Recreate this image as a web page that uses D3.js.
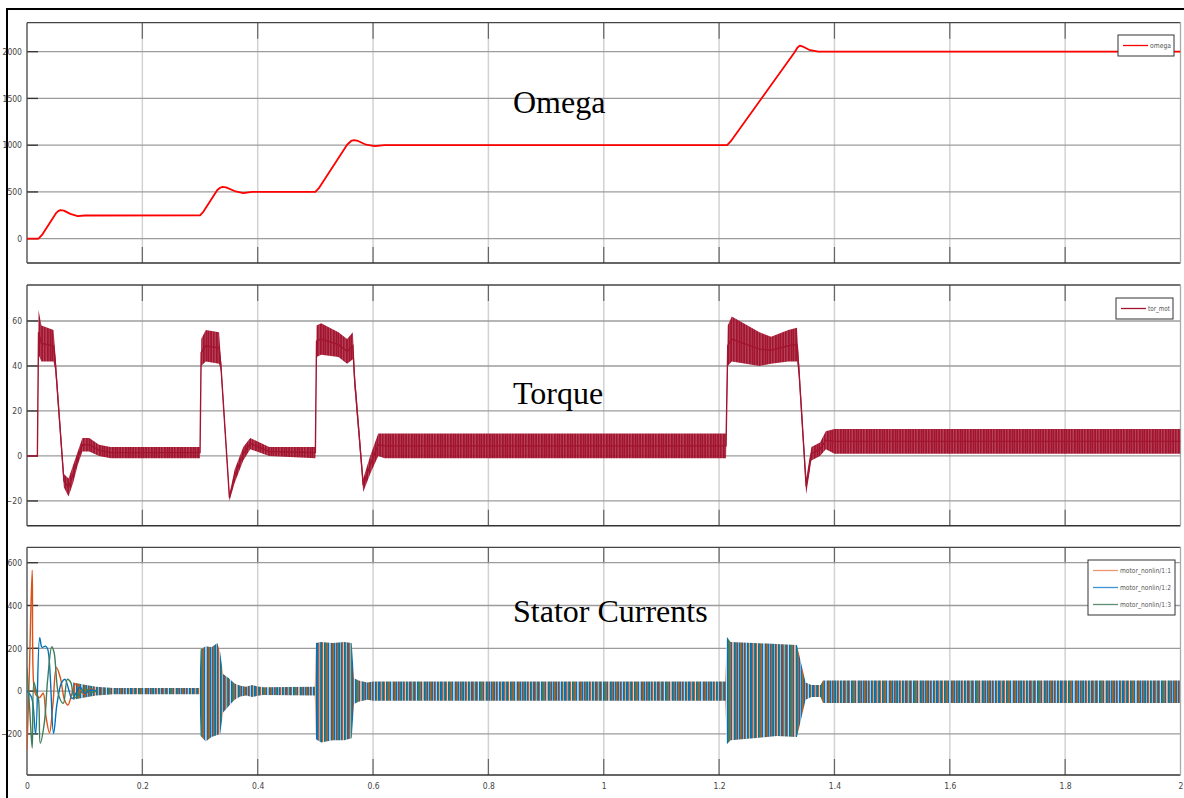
<!DOCTYPE html>
<html>
<head>
<meta charset="utf-8">
<script src="https://cdn.jsdelivr.net/npm/d3@7"></script>
<style>
  body { margin: 0; background: #fff; }
  svg { display: block; }
  .axis text { font-family: "DejaVu Sans Condensed", "Liberation Sans Narrow", sans-serif; font-size: 8.5px; fill: #444; }
  .title { font-family: "Liberation Serif", "DejaVu Serif", serif; font-size: 32px; fill: #000; }
  .legend text { font-family: "DejaVu Sans Condensed", sans-serif; font-size: 7px; fill: #555; }
</style>
</head>
<body>
<svg id="chart" width="1184" height="798"></svg>
<script>
// ---- data ----
const xTicks = [0, 0.2, 0.4, 0.6, 0.8, 1, 1.2, 1.4, 1.6, 1.8, 2];

const omegaTicks = [0, 500, 1000, 1500, 2000];
const omegaT = [0, 0.02, 0.026, 0.05, 0.054, 0.058, 0.064, 0.075, 0.088, 0.1, 0.3, 0.306, 0.33, 0.335, 0.339, 0.345, 0.36, 0.375, 0.39, 0.5, 0.506, 0.555, 0.562, 0.567, 0.574, 0.588, 0.603, 0.62, 1.214, 1.22, 1.33, 1.336, 1.34, 1.345, 1.356, 1.372, 2];
const omegaV = [0, 0, 40, 270, 295, 305, 300, 265, 242, 248, 250, 290, 520, 545, 555, 548, 510, 488, 500, 500, 540, 1005, 1045, 1054, 1045, 1005, 990, 1000, 1000, 1040, 1985, 2045, 2065, 2055, 2020, 2000, 2000];

const torqueTicks = [-20, 0, 20, 40, 60];
const torqueT  = [0, 0.018, 0.02, 0.025, 0.046, 0.049, 0.064, 0.072, 0.08, 0.088, 0.096, 0.108, 0.125, 0.145, 0.3, 0.302, 0.31, 0.333, 0.336, 0.351, 0.36, 0.375, 0.387, 0.42, 0.5, 0.502, 0.51, 0.54, 0.555, 0.565, 0.568, 0.583, 0.595, 0.609, 0.62, 1.212, 1.215, 1.222, 1.27, 1.29, 1.32, 1.335, 1.338, 1.351, 1.36, 1.375, 1.385, 1.4, 2];
const torqueLo = [0, 0, 45, 42, 42, 38, -14, -18, -12, -4, 2, 2, 0, -1, -1, 40, 42, 41, 38, -20, -12, -2, 3, 0, -1, 44, 45, 44, 41, 43, 30, -16, -8, 0, -1, -1, 40, 42, 40, 41, 42, 42, 36, -17, -2, 0, 3, 1, 1];
const torqueHi = [0, 0, 65, 58, 56, 46, -8, -10, -4, 2, 8, 8, 5, 4, 4, 52, 56, 55, 44, -17, -6, 4, 8, 4, 4, 58, 59, 55, 52, 55, 38, -10, 0, 10, 10, 10, 58, 62, 55, 53, 56, 57, 44, -10, 4, 6, 11, 12, 12];

const currentTicks = [-200, 0, 200, 400, 600];
// start-up transient, one trace per phase
const phase1T = [0, 0.004, 0.009, 0.012, 0.016, 0.022, 0.028, 0.033, 0.039, 0.045, 0.051, 0.058, 0.065, 0.071, 0.078, 0.085, 0.092, 0.1, 0.11, 0.12];
const phase1V = [-275, 80, 565, 20, -20, -30, -10, -120, -195, -60, 110, 60, -40, -65, -10, 35, 5, -15, 10, 0];
const phase2T = [0, 0.008, 0.015, 0.022, 0.026, 0.032, 0.036, 0.046, 0.052, 0.06, 0.066, 0.072, 0.078, 0.085, 0.092, 0.1, 0.11, 0.12];
const phase2V = [0, -30, -200, 250, 205, 210, 195, -198, -60, 40, 55, 10, -35, -10, 20, -10, 5, 0];
const phase3T = [0, 0.005, 0.009, 0.012, 0.016, 0.02, 0.023, 0.03, 0.036, 0.043, 0.047, 0.055, 0.063, 0.07, 0.076, 0.082, 0.09, 0.1, 0.11, 0.12];
const phase3V = [107, -100, -266, 40, 0, -40, -243, -150, 60, 207, 180, -20, -57, 55, 40, -30, -20, 15, -5, 0];
// envelope of the three phases (bursts + steady ripple)
const curT  = [0.08, 0.1, 0.12, 0.15, 0.299, 0.301, 0.31, 0.32, 0.33, 0.335, 0.34, 0.35, 0.36, 0.37, 0.38, 0.39, 0.4, 0.41, 0.499, 0.501, 0.51, 0.53, 0.55, 0.563, 0.567, 0.575, 0.59, 0.6, 1.211, 1.213, 1.22, 1.26, 1.3, 1.335, 1.35, 1.36, 1.376, 1.38, 2];
const curHi = [40, 30, 20, 15, 15, 195, 210, 205, 225, 180, 80, 60, 35, 25, 20, 28, 22, 18, 20, 225, 230, 225, 230, 225, 60, 50, 40, 45, 45, 255, 230, 225, 220, 215, 40, 28, 28, 50, 50];
const curLo = [-40, -30, -20, -15, -15, -210, -235, -215, -205, -200, -100, -70, -40, -25, -20, -28, -22, -18, -20, -225, -240, -230, -230, -220, -60, -50, -40, -45, -45, -250, -230, -220, -210, -215, -40, -28, -28, -55, -55];

// ---- layout ----
const W = 1184, H = 798;
const plotLeft = 27, plotRight = 1180.5;
const colors = {
    omega: '#ff0000',
    torque: '#a2142f',
    p1: '#d95319',
    p2: '#0072bd',
    p3: '#3f7d58'
};

const svg = d3.select('#chart');
const x = d3.scaleLinear().domain([0, 2]).range([plotLeft, plotRight]);

const defs = svg.append('defs');

// irregular stripe pattern to mimic the dense three-phase oscillation
const stripeColors = ['#0072bd', '#d95319', '#a9cde6', '#0072bd', '#3f7d58', '#e9a27f', '#0072bd', '#1c6ea4',
    '#d95319', '#7fb2d8', '#3f7d58', '#0072bd', '#d95319', '#c7dcea', '#0072bd', '#3f7d58', '#4a8060',
    '#d95319', '#0072bd', '#a9cde6', '#e9a27f', '#0072bd', '#3f7d58', '#d95319', '#0072bd', '#7fb2d8',
    '#1c6ea4', '#d95319', '#3f7d58', '#0072bd', '#c9a08a'];
const stripes = defs.append('pattern')
    .attr('id', 'stripes')
    .attr('patternUnits', 'userSpaceOnUse')
    .attr('width', stripeColors.length).attr('height', 10);
stripeColors.forEach((c, i) => {
    stripes.append('rect').attr('x', i).attr('y', 0).attr('width', 1).attr('height', 10).style('fill', c);
});

// torque noise texture
const tStripe = [1, 0.85, 0.95, 1, 0.8, 1, 0.9, 0.82, 1, 0.95, 0.86, 1, 0.9];
const tp = defs.append('pattern')
    .attr('id', 'tnoise')
    .attr('patternUnits', 'userSpaceOnUse')
    .attr('width', tStripe.length).attr('height', 10);
tStripe.forEach((o, i) => {
    tp.append('rect').attr('x', i).attr('y', 0).attr('width', 1).attr('height', 10)
        .style('fill', colors.torque).style('fill-opacity', o);
});

function drawPanel(id, top, bottom, domain, ticks, showX) {
    const y = d3.scaleLinear().domain(domain).range([bottom, top]);
    const g = svg.append('g').attr('class', 'panel');

    defs.append('clipPath').attr('id', 'clip-' + id)
        .append('rect')
        .attr('x', plotLeft).attr('y', top)
        .attr('width', plotRight - plotLeft).attr('height', bottom - top);

    // vertical grid
    g.selectAll('.vgrid')
        .data(xTicks.slice(1, -1))
        .join('line')
        .attr('x1', d => x(d)).attr('x2', d => x(d))
        .attr('y1', top).attr('y2', bottom)
        .style('stroke', '#d2d2d2').style('stroke-width', 1.5);

    // tick marks top and bottom
    xTicks.slice(1, -1).forEach(d => {
        g.append('line').attr('x1', x(d)).attr('x2', x(d)).attr('y1', top).attr('y2', top + 16)
            .style('stroke', '#666').style('stroke-width', 1.2);
        g.append('line').attr('x1', x(d)).attr('x2', x(d)).attr('y1', bottom - 16).attr('y2', bottom)
            .style('stroke', '#666').style('stroke-width', 1.2);
    });

    // horizontal grid
    g.selectAll('.hgrid')
        .data(ticks)
        .join('line')
        .attr('x1', plotLeft).attr('x2', plotRight)
        .attr('y1', d => y(d)).attr('y2', d => y(d))
        .style('stroke', '#9c9c9c').style('stroke-width', 1.3);

    g.selectAll('.ytick')
        .data(ticks)
        .join('line')
        .attr('x1', plotLeft).attr('x2', plotLeft + 11)
        .attr('y1', d => y(d)).attr('y2', d => y(d))
        .style('stroke', '#333').style('stroke-width', 1.3);

    // frame
    g.append('line').attr('x1', plotLeft).attr('x2', plotRight).attr('y1', top).attr('y2', top)
        .style('stroke', '#444').style('stroke-width', 1.3);
    g.append('line').attr('x1', plotLeft).attr('x2', plotRight).attr('y1', bottom).attr('y2', bottom)
        .style('stroke', '#333').style('stroke-width', 1.5);
    g.append('line').attr('x1', plotLeft).attr('x2', plotLeft).attr('y1', top).attr('y2', bottom)
        .style('stroke', '#444').style('stroke-width', 1.3);
    g.append('line').attr('x1', plotRight).attr('x2', plotRight).attr('y1', top).attr('y2', bottom)
        .style('stroke', '#aaa').style('stroke-width', 1.3);

    // axis labels
    const ya = g.append('g')
        .attr('class', 'axis')
        .attr('transform', `translate(${plotLeft - 4},0)`)
        .call(d3.axisLeft(y).tickValues(ticks).tickSize(0).tickPadding(1).tickFormat(d3.format('d')));
    ya.select('.domain').remove();

    if (showX) {
        const xa = g.append('g')
            .attr('class', 'axis')
            .attr('transform', `translate(0,${bottom})`)
            .call(d3.axisBottom(x).tickValues(xTicks).tickSize(0).tickPadding(8).tickFormat(d3.format('')));
        xa.select('.domain').remove();
    }

    const plot = svg.append('g').attr('clip-path', `url(#clip-${id})`);
    return {y, plot};
}

function drawLegend(x0, y0, w, textW, items) {
    const lg = svg.append('g').attr('class', 'legend').attr('transform', `translate(${x0},${y0})`);
    lg.append('rect')
        .attr('width', w).attr('height', items.length * 17 + 4)
        .style('fill', '#fff').style('stroke', '#333').style('stroke-width', 1);
    items.forEach((it, i) => {
        const yy = 10.5 + i * 17;
        lg.append('line').attr('x1', 5).attr('x2', 30).attr('y1', yy).attr('y2', yy)
            .style('stroke', it.color).style('stroke-width', 1.3);
        lg.append('text').attr('x', 32).attr('y', yy + 2.5)
            .attr('textLength', textW).attr('lengthAdjust', 'spacingAndGlyphs')
            .text(it.label);
    });
}

// ---- Omega ----
{
    const {y, plot} = drawPanel('omega', 22.7, 263, [-260, 2310], omegaTicks, false);
    const pts = omegaT.map((t, i) => [t, omegaV[i]]);
    plot.append('path')
        .datum(pts)
        .attr('d', d3.line().x(d => x(d[0])).y(d => y(d[1])))
        .style('fill', 'none').style('stroke', colors.omega).style('stroke-width', 1.8)
        .style('stroke-linejoin', 'round');
    svg.append('text').attr('class', 'title').attr('x', 513).attr('y', 113).text('Omega');
    drawLegend(1118, 35, 56, 21, [{label: 'omega', color: colors.omega}]);
}

// ---- Torque ----
{
    const {y, plot} = drawPanel('torque', 285, 525.7, [-31, 76], torqueTicks, false);
    const pts = torqueT.map((t, i) => ({t, lo: torqueLo[i], hi: torqueHi[i]}));
    plot.append('path')
        .datum(pts)
        .attr('d', d3.area().x(d => x(d.t)).y0(d => y(d.lo)).y1(d => y(d.hi)))
        .style('fill', 'url(#tnoise)');
    plot.append('path')
        .datum(pts)
        .attr('d', d3.line().x(d => x(d.t)).y(d => y((d.lo + d.hi) / 2)))
        .style('fill', 'none').style('stroke', colors.torque).style('stroke-width', 1.4);
    svg.append('text').attr('class', 'title').attr('x', 513).attr('y', 404).text('Torque');
    drawLegend(1116, 298, 57, 22, [{label: 'tor_mot', color: colors.torque}]);
}

// ---- Stator currents ----
{
    const {y, plot} = drawPanel('cur', 547.3, 775, [-392, 672], currentTicks, true);
    const env = curT.map((t, i) => ({t, lo: curLo[i], hi: curHi[i]}));
    plot.append('path')
        .datum(env)
        .attr('d', d3.area().x(d => x(d.t)).y0(d => y(d.lo)).y1(d => y(d.hi)))
        .style('fill', 'url(#stripes)');

    const line = d3.line().x(d => x(d[0])).y(d => y(d[1])).curve(d3.curveCatmullRom);
    [[phase1T, phase1V, colors.p1], [phase2T, phase2V, colors.p2], [phase3T, phase3V, colors.p3]].forEach(([ts, vs, c]) => {
        plot.append('path')
            .datum(ts.map((t, i) => [t, vs[i]]))
            .attr('d', line)
            .style('fill', 'none').style('stroke', c).style('stroke-width', 1.4);
    });
    svg.append('text').attr('class', 'title').attr('x', 513).attr('y', 622).text('Stator Currents');
    drawLegend(1088, 560, 87, 51, [
        {label: 'motor_nonlin/1:1', color: '#ee9670'},
        {label: 'motor_nonlin/1:2', color: '#3d95d6'},
        {label: 'motor_nonlin/1:3', color: '#5d8f70'}
    ]);
}

// outer frame (only left/top edges are inside the picture)
svg.append('rect')
    .attr('x', 7).attr('y', 9)
    .attr('width', W).attr('height', H)
    .style('fill', 'none').style('stroke', '#000').style('stroke-width', 2);
</script>
</body>
</html>
